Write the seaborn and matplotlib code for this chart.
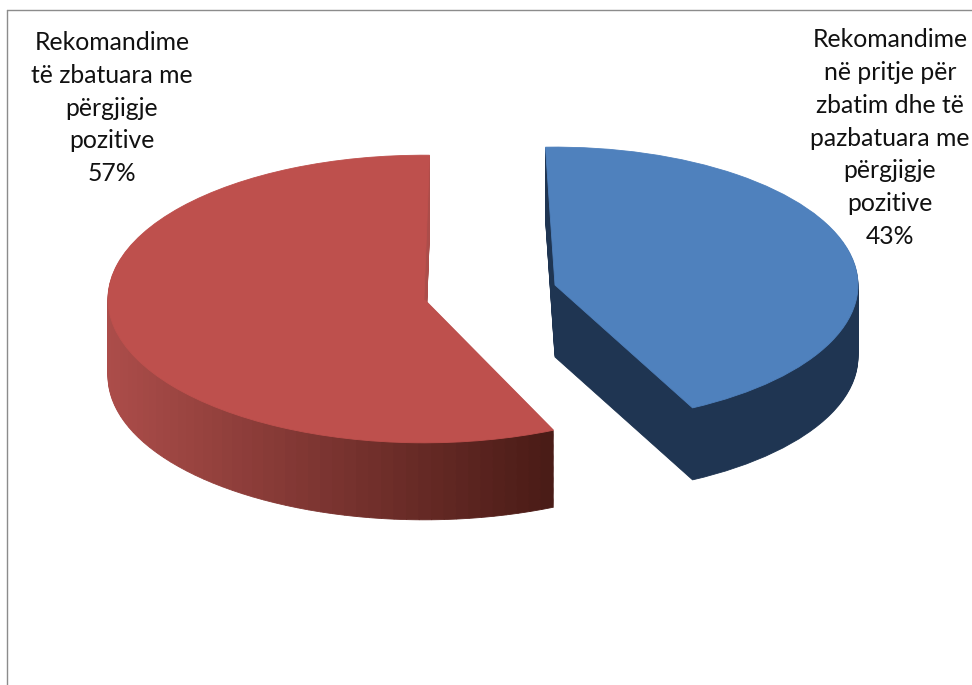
import numpy as np
import matplotlib
matplotlib.use("Agg")
import matplotlib.pyplot as plt
from matplotlib.lines import Line2D
from matplotlib.colors import to_rgb
import seaborn as sns

labels = ["Rekomandime\nnë pritje për\nzbatim dhe të\npazbatuara me\npërgjigje\npozitive\n43%",
          "Rekomandime\ntë zbatuara me\npërgjigje\npozitive\n57%"]
values = [43, 57]
top_colors = ["#4F81BD", "#BE504D"]
blue_side = "#1F3552"
red_side_left = "#AC4D4A"
red_side_right = "#491B16"

sns.set_theme(style="white")
plt.rcParams["font.family"] = ["Lato", "DejaVu Sans"]

W, H = 972, 685
fig = plt.figure(figsize=(W / 100, H / 100), dpi=100, facecolor="white")
ax = fig.add_axes([0, 0, 1, 1])

UX, UY = 312.0, 142.0      # pixels per unit radius
CX, CY = 488.0, 284.0      # pixel position of the pie centre
DEPTH = 72.0
LAYERS = 70
total = sum(values)


def to_unit(px, py):
    return (px - CX) / UX, (CY - py) / UY


def wedge(value, start, center, radius, color):
    wedges, _ = ax.pie([value, total - value], startangle=start, center=center, radius=radius,
                       colors=[color, "white"], wedgeprops={"linewidth": 0.6})
    wedges[0].set_edgecolor(color)
    wedges[-1].set_visible(False)


def side(value, start, center, radius, n=90):
    sub = np.full(n, value / n)
    rest = total - value
    angles = np.radians(start + (np.arange(n) + 0.5) * value / n * 360 / total)
    xs = np.cos(angles)
    c0 = np.array(to_rgb(red_side_left))
    c1 = np.array(to_rgb(red_side_right))
    # colour runs left to right over the front of the slice
    t = np.clip((xs + 1) / (1 + np.cos(np.radians(start + value * 3.6))), 0, 1)
    t[np.sin(angles) > 0] = 0.0
    cols = [tuple(c0 + (c1 - c0) * v) for v in t]
    wedges, _ = ax.pie(list(sub) + [rest], startangle=start, center=center, radius=radius,
                       colors=cols + ["white"], wedgeprops={"linewidth": 0.6})
    for w, c in zip(wedges, cols):
        w.set_edgecolor(c)
    wedges[-1].set_visible(False)


# blue slice
b_center = to_unit(555, 285)
b_radius = 303 / UX
b_start = -63.0
for k in np.linspace(DEPTH, 1, LAYERS):
    wedge(values[0], b_start, (b_center[0], b_center[1] - k / UY), b_radius, blue_side)
wedge(values[0], b_start, b_center, b_radius, top_colors[0])

# red slice
r_center = to_unit(424, 299)
r_radius = 316 / UX
r_start = 89.0
for k in np.linspace(DEPTH + 5, 1, LAYERS):
    side(values[1], r_start, (r_center[0], r_center[1] - k / UY), r_radius)
wedge(values[1], r_start, r_center, r_radius, top_colors[1])

ax.set_aspect("auto")
ax.set_xlim(to_unit(0, 0)[0], to_unit(W, 0)[0])
ax.set_ylim(to_unit(0, H)[1], to_unit(0, 0)[1])
ax.set_axis_off()

ax.text(*to_unit(890, 138), labels[0], ha="center", va="center", fontsize=17.8,
        color="#111111", linespacing=1.51)
ax.text(*to_unit(112, 108), labels[1], ha="center", va="center", fontsize=17.8,
        color="#111111", linespacing=1.51)

for xs, ys in [((7, 7), (10, H)), ((7, W), (10, 10))]:
    fig.add_artist(Line2D([x / W for x in xs], [1 - y / H for y in ys],
                          color="#8C8C8C", linewidth=1.0))

fig.savefig("out.png", dpi=100)
